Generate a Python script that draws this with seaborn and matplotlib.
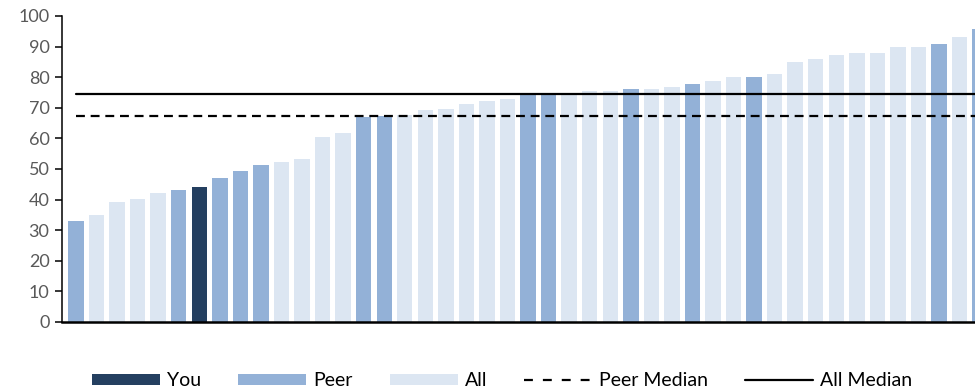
import matplotlib
matplotlib.use("Agg")
import matplotlib.pyplot as plt
from matplotlib.patches import Patch
from matplotlib.lines import Line2D
import seaborn as sns
import pandas as pd

# Scores, sorted ascending, with the group each respondent belongs to
scores = [33.0, 35.0, 39.2, 40.3, 42.1, 43.0, 44.2, 47.2, 49.2, 51.4,
          52.2, 53.4, 60.6, 61.8, 66.9, 67.3, 67.6, 69.3, 69.7, 71.3,
          72.2, 72.8, 74.5, 74.5, 74.7, 75.6, 75.6, 76.0, 76.3, 76.8,
          77.7, 78.6, 80.2, 80.2, 81.0, 84.9, 86.1, 87.4, 87.8, 87.8,
          89.8, 89.8, 90.8, 93.2, 95.6]
groups = ["Peer", "All", "All", "All", "All", "Peer", "You", "Peer", "Peer", "Peer",
          "All", "All", "All", "All", "Peer", "Peer", "All", "All", "All", "All",
          "All", "All", "Peer", "Peer", "All", "All", "All", "Peer", "All", "All",
          "Peer", "All", "All", "Peer", "All", "All", "All", "All", "All", "All",
          "All", "All", "Peer", "All", "Peer"]
peer_median = 67.3
all_median = 74.5

y_ticks = list(range(0, 101, 10))
legend_labels = ["You", "Peer", "All", "Peer Median", "All Median"]

colors = {"You": "#243F60", "Peer": "#93B1D7", "All": "#DCE6F2"}
text_grey = "#595959"

df = pd.DataFrame({"pos": range(len(scores)), "score": scores, "group": groups})

sns.set_theme(style="white")
plt.rcParams["font.family"] = ["Lato", "DejaVu Sans"]

fig = plt.figure(figsize=(9.75, 3.91), dpi=100)
ax = fig.add_axes([62 / 975, 1 - 322 / 391, 1 - 62 / 975, (322 - 16) / 391])

sns.barplot(data=df, x="pos", y="score", hue="group", palette=colors,
            dodge=False, width=0.75, native_scale=True, legend=False,
            saturation=1, ax=ax, linewidth=0)

# Median reference lines across all categories
xs = [0, len(scores) + 2]
ax.plot(xs, [peer_median] * 2, color="black", lw=1.6, ls=(0, (4.0, 2.6)))
ax.plot(xs, [all_median] * 2, color="black", lw=1.6)

ax.set_xlim(-0.68, 43.75)
ax.set_ylim(0, 100)
ax.set_yticks(y_ticks)
ax.set_yticklabels([str(t) for t in y_ticks], fontsize=13, color=text_grey)
ax.set_xticks([])
ax.set_xlabel("")
ax.set_ylabel("")

for side in ("top", "right"):
    ax.spines[side].set_visible(False)
ax.spines["left"].set_color("black")
ax.spines["left"].set_linewidth(1.1)
ax.spines["bottom"].set_color("black")
ax.spines["bottom"].set_linewidth(1.8)
ax.tick_params(axis="y", which="major", left=True, length=5, width=1.1,
               color="black", pad=4)

handles = [
    Patch(facecolor=colors["You"], edgecolor="none"),
    Patch(facecolor=colors["Peer"], edgecolor="none"),
    Patch(facecolor=colors["All"], edgecolor="none"),
    Line2D([], [], color="black", lw=1.6, ls=(0, (4.0, 4.5))),
    Line2D([], [], color="black", lw=1.6),
]
fig.legend(handles, legend_labels, loc="center", bbox_to_anchor=(0.515, 0.026),
           ncol=5, frameon=False, fontsize=14, labelcolor="black",
           handlelength=3.5, handleheight=0.46, handletextpad=0.36,
           columnspacing=1.9)

fig.savefig("out.png", dpi=100)
